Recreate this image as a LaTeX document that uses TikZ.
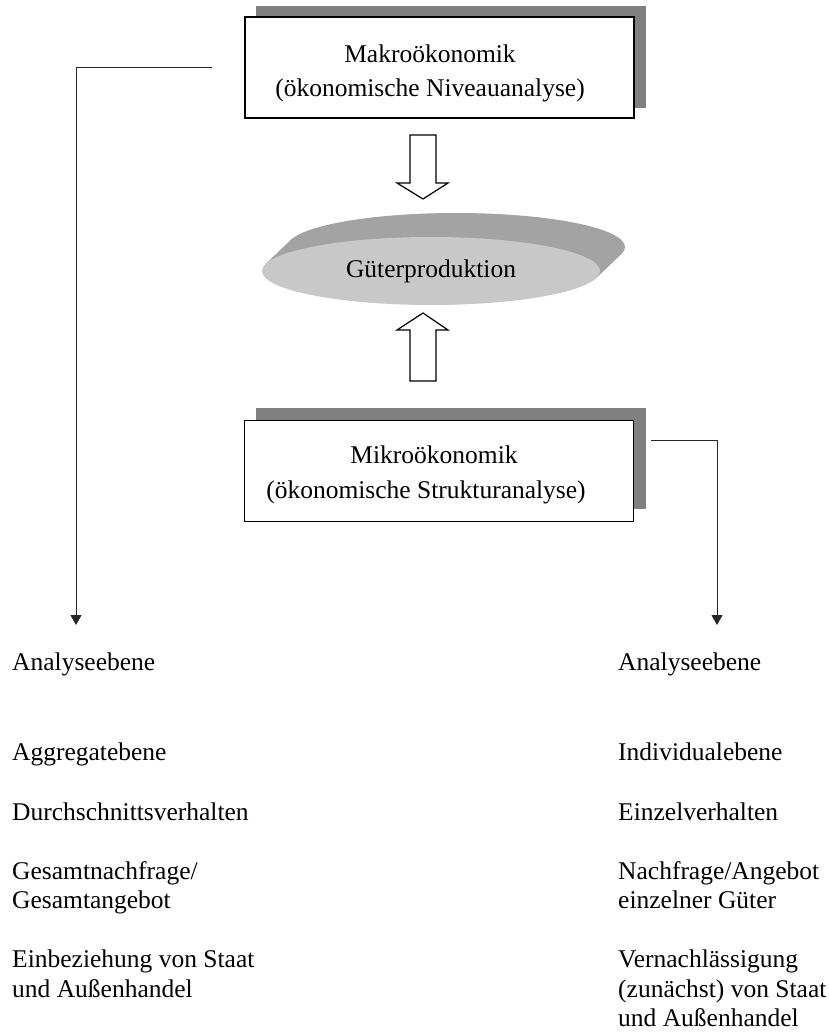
\documentclass[tikz,border=0pt]{standalone}
\usepackage{fontspec}
\setmainfont{Liberation Serif}
\usetikzlibrary{arrows.meta,shapes.geometric}
\definecolor{shadowgray}{RGB}{128,128,128}
\definecolor{discfront}{RGB}{200,200,200}
\definecolor{discside}{RGB}{163,163,163}
\begin{document}
\begin{tikzpicture}[x=1pt,y=-1pt,
  box/.style={draw=black, line width=1.2pt, fill=white, minimum width=389pt, minimum height=101pt, inner sep=0pt},
  boxlbl/.style={anchor=base, inner sep=0pt, font=\fontsize{25.5}{30}\selectfont},
  lbl/.style={anchor=base west, inner sep=0pt, font=\fontsize{25.5}{30}\selectfont},
  conn/.style={draw=black!85, line width=1pt},
  tipped/.style={-{Triangle[length=10pt,width=11pt]}},
  blockarrow/.style={draw=black, line width=1.2pt, fill=white, line join=miter}
]
\useasboundingbox (0,0) rectangle (829,1035);

% shadows
\fill[shadowgray] (256,6) rectangle (646,108);
\fill[shadowgray] (256,408) rectangle (646,509);

% boxes
\node[box] (makro) at (439.5,67.5) {};
\node[boxlbl] (makro1) at (430,63) {Makroökonomik};
\node[boxlbl] (makro2) at (430,97) {(ökonomische Niveauanalyse)};
\node[box] (mikro) at (439,471) {};
\node[boxlbl] (mikro1) at (434,463) {Mikroökonomik};
\node[boxlbl] (mikro2) at (426,498) {(ökonomische Strukturanalyse)};

% disc
\fill[discside] (456,247) ellipse [x radius=169pt, y radius=34pt];
\fill[discside] (265.6,264.0) -- (290.6,240.0) -- (621.4,254.0) -- (596.4,278.0) -- cycle;
\node[ellipse, fill=discfront, minimum width=338pt, minimum height=68pt, inner sep=0pt,
      font=\fontsize{25.5}{30}\selectfont] (guter) at (431,271) {Güterproduktion};

% block arrows
\draw[blockarrow] (410,135) -- (436,135) -- (436,183) -- (448,183) -- (423,199) -- (397,183) -- (410,183) -- cycle;
\draw[blockarrow] (423,313) -- (448,330) -- (436,330) -- (436,381) -- (410,381) -- (410,330) -- (397,330) -- cycle;

% connectors
\coordinate (lstart) at (212,68);
\coordinate (lend) at (76,625);
\coordinate (rstart) at (651,440);
\coordinate (rend) at (717,625);
\draw[conn,tipped] (lstart) -- (lend |- lstart) -- (lend);
\draw[conn,tipped] (rstart) -- (rend |- rstart) -- (rend);

% left column
\node[lbl] (la) at (12,670) {Analyseebene};
\node[lbl] (lb) at (12,760) {Aggregatebene};
\node[lbl] (lc) at (12,820) {Durchschnittsverhalten};
\node[lbl] (ld1) at (12,879) {Gesamtnachfrage/};
\node[lbl] (ld2) at (12,908.5) {Gesamtangebot};
\node[lbl] (le1) at (12,967.5) {Einbeziehung von Staat};
\node[lbl] (le2) at (12,997) {und Außenhandel};

% right column
\node[lbl] (ra) at (618,670) {Analyseebene};
\node[lbl] (rb) at (618,760) {Individualebene};
\node[lbl] (rc) at (618,820) {Einzelverhalten};
\node[lbl] (rd1) at (618,879) {Nachfrage/Angebot};
\node[lbl] (rd2) at (618,908.5) {einzelner Güter};
\node[lbl] (re1) at (618,967.5) {Vernachlässigung};
\node[lbl] (re2) at (618,997) {(zunächst) von Staat};
\node[lbl] (re3) at (618,1026.5) {und Außenhandel};
\end{tikzpicture}
\end{document}
